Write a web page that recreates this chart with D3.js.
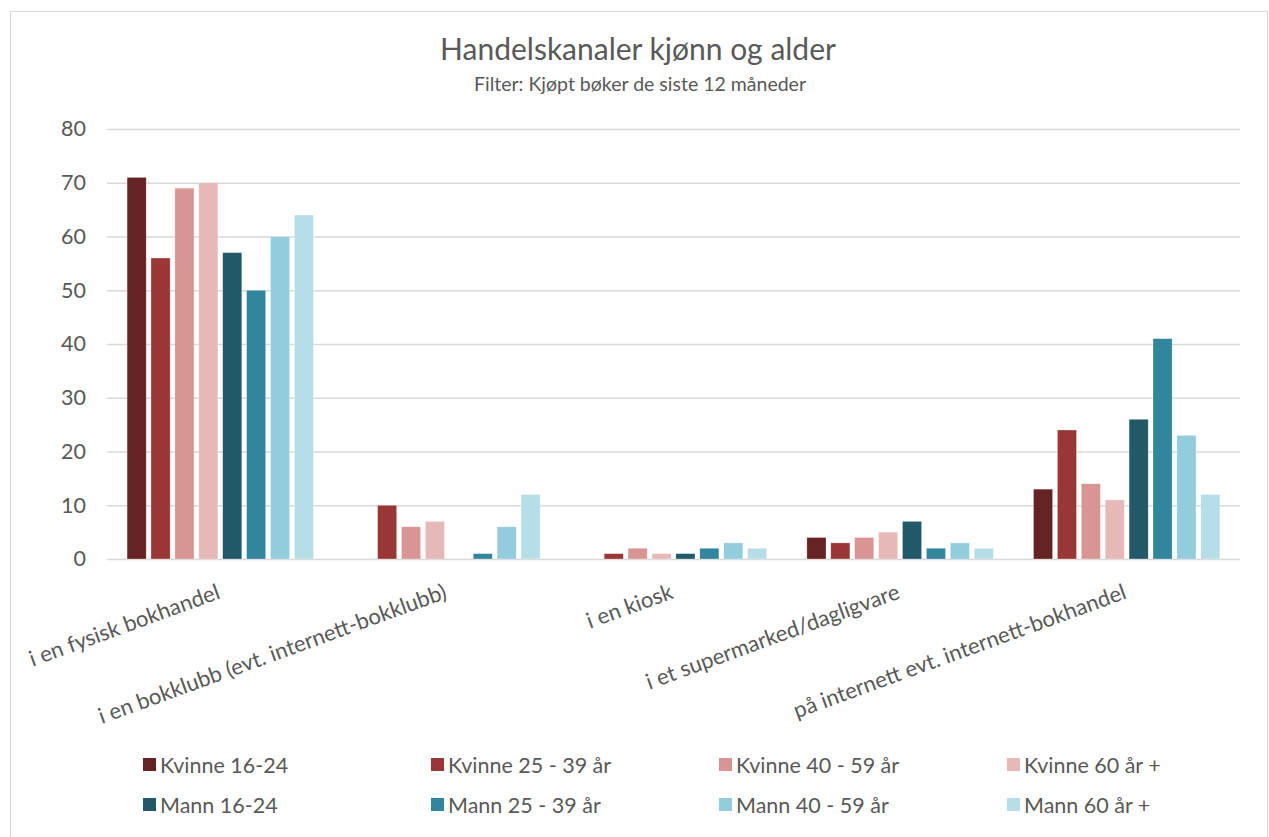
<!DOCTYPE html>
<html>
<head>
<meta charset="utf-8">
<script src="https://cdn.jsdelivr.net/npm/d3@7"></script>
<style>
  body { margin: 0; background: #fff; }
  svg { display: block; font-family: Lato, 'Open Sans', sans-serif; }
</style>
</head>
<body>
<svg id="chart"></svg>
<script>
const categories = [
  'i en fysisk bokhandel',
  'i en bokklubb (evt. internett-bokklubb)',
  'i en kiosk',
  'i et supermarked/dagligvare',
  'på internett evt. internett-bokhandel',
];
const seriesNames = [
  'Kvinne 16-24', 'Kvinne 25 - 39 år', 'Kvinne 40 - 59 år', 'Kvinne 60 år +',
  'Mann 16-24', 'Mann 25 - 39 år', 'Mann 40 - 59 år', 'Mann 60 år +',
];
const seriesColors = ['#662324', '#983736', '#D99594', '#E6B9B8', '#215968', '#31859C', '#93CDDD', '#B7DEE8'];
// values[series][category]
const values = [
  [71, 0, 0, 4, 13],
  [56, 10, 1, 3, 24],
  [69, 6, 2, 4, 14],
  [70, 7, 1, 5, 11],
  [57, 0, 1, 7, 26],
  [50, 1, 2, 2, 41],
  [60, 6, 3, 3, 23],
  [64, 12, 2, 2, 12],
];
const yTicks = [0, 10, 20, 30, 40, 50, 60, 70, 80];

const width = 1269, height = 837;
const margin = { top: 129, right: 29, bottom: 278, left: 107 };
const textColor = '#595959';

const svg = d3.select('#chart').attr('width', width).attr('height', height);

// ramme
svg.append('rect')
  .attr('x', 10.5).attr('y', 11.5)
  .attr('width', width - 12).attr('height', height)
  .attr('fill', 'none').attr('stroke', '#d9d9d9');

// tittel
svg.append('text')
  .attr('x', 638).attr('y', 60)
  .attr('text-anchor', 'middle')
  .attr('fill', textColor)
  .style('font-size', '30px')
  .text('Handelskanaler kjønn og alder');
svg.append('text')
  .attr('x', 640).attr('y', 91)
  .attr('text-anchor', 'middle')
  .attr('fill', textColor)
  .style('font-size', '19.5px')
  .text('Filter: Kjøpt bøker de siste 12 måneder');

const x0 = d3.scaleBand(categories, [margin.left, width - margin.right]);
const x1 = d3.scaleBand(seriesNames, [0, x0.bandwidth()]).paddingInner(0.2).paddingOuter(0.84);
const y = d3.scaleLinear([0, 80], [height - margin.bottom, margin.top]);

// Y akse + rutenett
const yAxis = svg.append('g')
  .attr('transform', `translate(${margin.left},0)`)
  .call(d3.axisLeft(y).tickValues(yTicks).tickSize(0).tickPadding(21));
yAxis.select('.domain').remove();
yAxis.selectAll('.tick text')
  .attr('fill', textColor)
  .style('font-size', '21.5px')
  .style('font-family', 'Lato, sans-serif');
yAxis.selectAll('.tick')
  .append('line')
  .attr('x1', 0).attr('x2', width - margin.left - margin.right)
  .attr('stroke', '#d9d9d9').attr('stroke-width', 1.3);

// søyler
const groups = svg.append('g')
  .selectAll('g')
  .data(values)
  .join('g')
  .attr('fill', (d, i) => seriesColors[i]);
groups.selectAll('rect')
  .data((row, si) => row.map((v, ci) => ({ v, ci, si })))
  .join('rect')
  .attr('x', (d) => x0(categories[d.ci]) + x1(seriesNames[d.si]))
  .attr('y', (d) => y(d.v))
  .attr('width', x1.bandwidth())
  .attr('height', (d) => y(0) - y(d.v))
  .attr('stroke', '#fff').attr('stroke-width', 0.6).attr('stroke-opacity', 0.5);

// X akse etiketter
svg.append('g')
  .selectAll('text')
  .data(categories)
  .join('text')
  .attr('transform', (d) => `translate(${x0(d) + x0.bandwidth() / 2 + 1},${y(0) + 39}) rotate(-20)`)
  .attr('text-anchor', 'end')
  .attr('fill', textColor)
  .style('font-size', '22px')
  .text((d) => d);

// legende
const legend = svg.append('g')
  .selectAll('g')
  .data(seriesNames)
  .join('g')
  .attr('transform', (d, i) => `translate(${143 + (i % 4) * 288},${i < 4 ? 765 : 805})`);
legend.append('rect')
  .attr('x', 0).attr('y', -7)
  .attr('width', 13).attr('height', 13)
  .attr('fill', (d, i) => seriesColors[i]);
legend.append('text')
  .attr('x', 17).attr('y', 7.5)
  .attr('fill', textColor)
  .style('font-size', '21.5px')
  .text((d) => d);
</script>
</body>
</html>
